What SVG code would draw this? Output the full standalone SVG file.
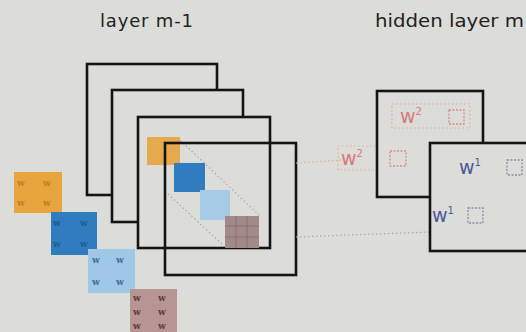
<svg xmlns="http://www.w3.org/2000/svg" width="526" height="332" viewBox="0 0 526 332">
<style>
.frame{fill:#dcdcd9;stroke:#141414;stroke-width:2.6}
.open{fill:none;stroke:#141414;stroke-width:2.6}
.title{font-family:"DejaVu Sans","Liberation Sans",sans-serif;font-size:18px;fill:#222}
.wr{font-family:"DejaVu Sans","Liberation Sans",sans-serif;font-size:19px;fill:#d87a78}
.wb{font-family:"DejaVu Sans","Liberation Sans",sans-serif;font-size:19px;fill:#4a5a96}
.sup{font-size:10px}
.dot{fill:none;stroke:#a8a8a8;stroke-width:1.2;stroke-dasharray:1.5 2.5}
.dotr{fill:none;stroke:#e0a8a6;stroke-width:1.2;stroke-dasharray:1.5 2.5}
.boxr{fill:none;stroke:#d88a88;stroke-width:1.3;stroke-dasharray:2 1.5}
.boxb{fill:none;stroke:#8a8aa8;stroke-width:1.3;stroke-dasharray:2 1.5}
.mk{font-family:"DejaVu Serif",serif;font-size:9px;font-weight:bold}
</style>
<rect x="0" y="0" width="526" height="332" fill="#dcdcd9"/>
<text class="title" x="100" y="27" textLength="93" lengthAdjust="spacing">layer  m-1</text>
<text class="title" x="375" y="27" textLength="149" lengthAdjust="spacingAndGlyphs">hidden layer m</text>

<g id="layer-m-1">
  <rect id="map1" class="frame" x="87" y="64" width="130" height="131"/>
  <rect id="map2" class="frame" x="112" y="90" width="131" height="132"/>
  <rect id="map3" class="frame" x="138" y="117" width="132" height="131"/>
  <g id="inner-patches">
    <rect x="147" y="137" width="33" height="28" fill="#e6a43c" opacity="0.9"/>
    <rect x="174" y="163" width="31" height="29" fill="#2f7cc0"/>
    <rect x="200" y="190" width="30" height="30" fill="#a6cbe6"/>
    <rect x="225" y="216" width="34" height="32" fill="#a38a8a"/>
    <path d="M225 226H259M225 237H259M236 216V248M247 216V248" stroke="#7a6060" stroke-width="1" opacity="0.6"/>
    <path class="dot" d="M180 140L260 216M168 194L224 246"/>
  </g>
  <rect id="map4" class="open" x="165" y="143" width="131" height="132"/>
</g>

<g id="filters">
  <g id="filter-orange">
    <rect x="14" y="172" width="48" height="41" fill="#e8a53e"/>
    <g class="mk" fill="#c47a22"><text x="17" y="186">w</text><text x="43" y="186">w</text><text x="17" y="206">w</text><text x="43" y="206">w</text></g>
  </g>
  <g id="filter-blue">
    <rect x="51" y="212" width="46" height="43" fill="#2f7dbf"/>
    <g class="mk" fill="#1e5a96"><text x="53" y="226">w</text><text x="80" y="226">w</text><text x="53" y="247">w</text><text x="80" y="247">w</text></g>
  </g>
  <g id="filter-lightblue">
    <rect x="88" y="249" width="47" height="44" fill="#9fc7e6"/>
    <g class="mk" fill="#3a6fa8"><text x="92" y="263">w</text><text x="116" y="263">w</text><text x="92" y="285">w</text><text x="116" y="285">w</text></g>
  </g>
  <g id="filter-brown">
    <rect x="130" y="289" width="47" height="43" fill="#b99494"/>
    <g class="mk" fill="#5e3c3c"><text x="133" y="301">w</text><text x="158" y="301">w</text><text x="133" y="315">w</text><text x="158" y="315">w</text><text x="133" y="329">w</text><text x="158" y="329">w</text></g>
  </g>
</g>

<g id="connectors">
  <path class="dotr" d="M296 163L342 160"/>
  <path class="dot" d="M296 237L430 232"/>
  <rect class="dotr" x="338" y="146" width="72" height="24"/>
</g>

<g id="hidden-layer-m">
  <g id="map-a">
    <rect class="frame" x="377" y="91" width="106" height="106"/>
    <rect class="dotr" x="392" y="104" width="78" height="24"/>
    <text class="wr" x="400" y="123">w<tspan class="sup" dy="-8">2</tspan></text>
    <rect class="boxr" x="449" y="110" width="15" height="14"/>
    <rect class="boxr" x="390" y="151" width="16" height="15"/>
  </g>
  <text class="wr" x="341" y="165">w<tspan class="sup" dy="-8">2</tspan></text>
  <g id="map-b">
    <rect class="frame" x="430" y="143" width="100" height="108"/>
    <text class="wb" x="459" y="174">w<tspan class="sup" dy="-8">1</tspan></text>
    <rect class="boxb" x="507" y="160" width="15" height="15"/>
    <text class="wb" x="432" y="222">w<tspan class="sup" dy="-8">1</tspan></text>
    <rect class="boxb" x="468" y="208" width="15" height="15"/>
  </g>
</g>
</svg>
